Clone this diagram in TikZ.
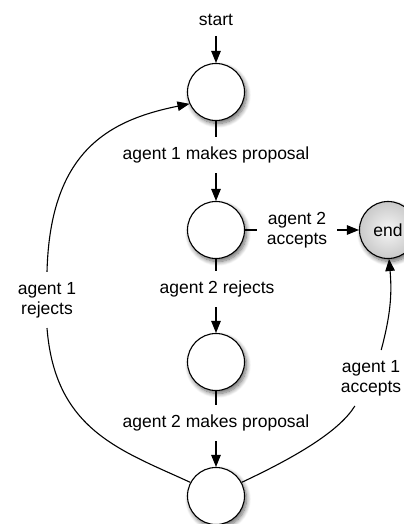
\documentclass[tikz,border=0pt]{standalone}
\usepackage{fontspec}
\setmainfont{Liberation Sans}
\usetikzlibrary{arrows.meta,shadows.blur}
\begin{document}
\begin{tikzpicture}[x=1bp,y=-1bp,
  font=\fontsize{17.5bp}{20bp}\selectfont,
  every node/.style={inner sep=10bp},
  shad/.style={blur shadow={shadow xshift=2bp, shadow yshift=-3bp, shadow blur steps=10, shadow blur radius=4.5bp, shadow opacity=60}},
  state/.style={circle, draw, line width=1.1bp, minimum size=57bp, inner sep=0pt, fill=white, shad},
  final/.style={circle, draw, line width=1.1bp, minimum size=57bp, inner sep=0pt, shading=radial, inner color=gray!8, outer color=gray!42, shad},
  lbl/.style={align=center},
  conn/.style={line width=1.1bp},
  arr/.style={conn, -{Triangle[length=12bp,width=9.5bp]}}]
\useasboundingbox (0,0) rectangle (403,524);
% states
\node[state] (c1) at (216,92) {};
\node[state] (c2) at (216,230) {};
\node[final] (end) at (388,230) {end};
\node[state] (c3) at (216,362) {};
\node[state] (c4) at (216,496) {};
% labels
\node[lbl] (start) at (216,20) {start};
\node[lbl] (p1) at (216,155) {agent 1 makes proposal};
\node[lbl] (acc2) at (297,230) {agent 2\\accepts};
\node[lbl] (rej2) at (217,289) {agent 2 rejects};
\node[lbl] (p2) at (216,423) {agent 2 makes proposal};
\node[lbl] (rej1) at (47,300) {agent 1\\rejects};
\node[lbl] (acc1) at (371,378) {agent 1\\accepts};
% connectors
\draw[arr] (start) -- (c1);
\draw[conn] (c1) -- (p1);
\draw[arr] (p1) -- (c2);
\draw[conn] (c2) -- (acc2);
\draw[arr] (acc2) -- (end);
\draw[conn] (c2) -- (c2 |- rej2.north);
\draw[arr] (c3 |- rej2.south) -- (c3);
\draw[conn] (c3) -- (p2);
\draw[arr] (p2) -- (c4);
\draw[conn] (c4.152) .. controls (120,450) and (55,430) .. (rej1.south);
\draw[arr] (rej1.north) .. controls (50,150) and (110,120) .. (c1.204);
\draw[conn] (c4.28) .. controls (300,455) and (340,430) .. (acc1.240);
\draw[arr] (acc1.70) to[bend right=10] (end.272);
\end{tikzpicture}
\end{document}
